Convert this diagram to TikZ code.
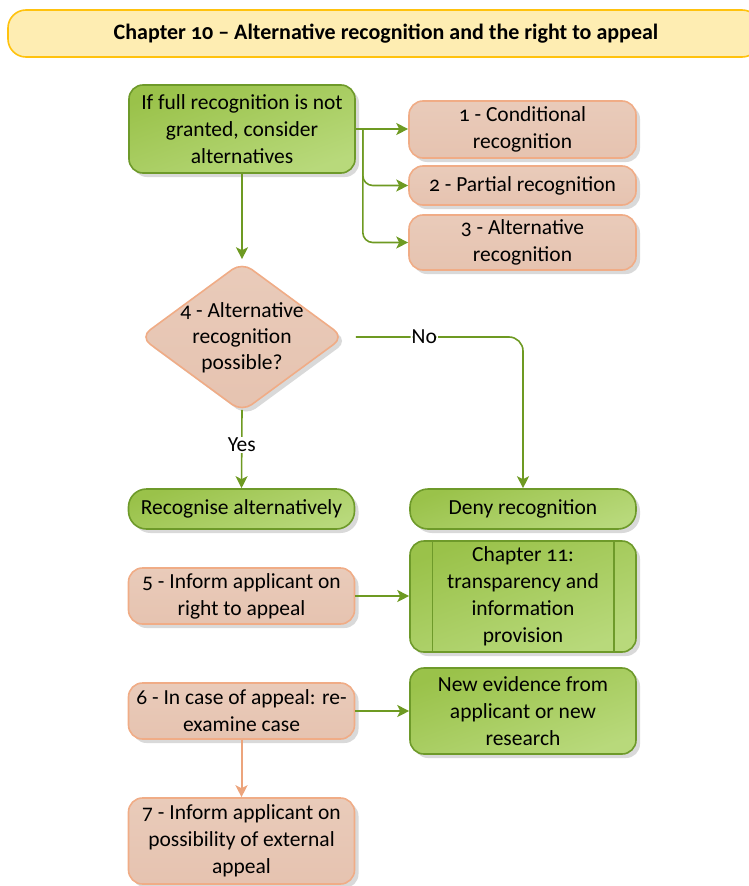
\documentclass[tikz,border=0pt]{standalone}
\usepackage{fontspec}
\setmainfont{Carlito}[Numbers=OldStyle]
\usetikzlibrary{shapes.geometric,arrows.meta,shadows,calc}
\definecolor{gfillA}{HTML}{9AC24A}
\definecolor{gfillB}{HTML}{B8D97B}
\definecolor{gdraw}{HTML}{6E9A2A}
\definecolor{sfill}{HTML}{E9CBBA}
\definecolor{sfillB}{HTML}{E6C3B0}
\definecolor{sdraw}{HTML}{F0AC86}
\definecolor{sconn}{HTML}{ECA47C}
\definecolor{conn}{HTML}{6E9A22}
\definecolor{yfill}{HTML}{FEEDB2}
\definecolor{ydraw}{HTML}{FFC20E}
\tikzset{
  base/.style={align=center, inner sep=0pt, line width=1.6pt, font=\fontsize{21.5}{27}\selectfont,
    drop shadow={shadow xshift=4pt, shadow yshift=-4pt, fill=black!15, opacity=1}},
  gbox/.style={base, draw=gdraw, top color=gfillA, bottom color=gfillB, shading angle=20, rounded corners=14pt},
  sbox/.style={base, draw=sdraw, top color=sfill, bottom color=sfillB, rounded corners=14pt},
  pill/.style={gbox, rounded corners=18pt},
  link/.style={draw=conn, line width=1.6pt, -{Stealth[length=12pt,width=12pt,inset=3pt]}},
  slink/.style={link, draw=sconn, line width=2pt},
  lbl/.style={fill=white, inner sep=1pt, font=\fontsize{21.5}{27}\selectfont},
}
\begin{document}
\begin{tikzpicture}[x=1pt,y=-1pt]
\useasboundingbox (0,0) rectangle (749,886);
% title banner
\node[draw=ydraw, fill=yfill, line width=1.6pt, rounded corners=18pt, minimum width=752pt, minimum height=47pt,
  inner sep=0pt] (title) at (384,33.5) {};
\node[font=\bfseries\fontsize{22}{26}\selectfont, inner sep=0pt] (ttext) at (386,34) {Chapter 10 – Alternative recognition and the right to appeal};
% nodes
\node[gbox, minimum width=226pt, minimum height=88pt] (A) at (242,129) {If full recognition is not\\granted, consider\\alternatives};
\node[sbox, minimum width=227pt, minimum height=57pt] (b1) at (522.5,129.5) {1 - Conditional\\recognition};
\node[sbox, minimum width=227pt, minimum height=39pt] (b2) at (522.5,185.5) {2 - Partial recognition};
\node[sbox, minimum width=227pt, minimum height=55pt] (b3) at (522.5,242.5) {3 - Alternative\\recognition};
\node[base, diamond, draw=sdraw, top color=sfill, bottom color=sfillB, rounded corners=12pt,
  minimum width=204pt, minimum height=150pt] (dia) at (242,337) {};
\node[align=center, inner sep=0pt, font=\fontsize{21.5}{26}\selectfont] (diat) at (242,338) {4 - Alternative\\recognition\\possible?};
\node[pill, minimum width=226pt, minimum height=40pt] (rec) at (241.5,509) {Recognise alternatively};
\node[pill, minimum width=226pt, minimum height=40pt] (deny) at (523,509) {Deny recognition};
\node[sbox, minimum width=226pt, minimum height=56pt] (b5) at (241.5,596) {5 - Inform applicant on\\right to appeal};
\node[gbox, minimum width=226pt, minimum height=111pt] (ch) at (523,596.5) {Chapter 11:\\transparency and\\information\\provision};
\draw[draw=gdraw, line width=1.4pt] ([xshift=23pt]ch.north west) -- ([xshift=23pt]ch.south west);
\draw[draw=gdraw, line width=1.4pt] ([xshift=-23pt]ch.north east) -- ([xshift=-23pt]ch.south east);
\node[sbox, minimum width=226pt, minimum height=56pt] (b6) at (241.5,711) {6 - In case of appeal: re-\\examine case};
\node[gbox, minimum width=226pt, minimum height=86pt] (new) at (523,711) {New evidence from\\applicant or new\\research};
\node[sbox, minimum width=226pt, minimum height=86pt] (b7) at (241.5,841) {7 - Inform applicant on\\possibility of external\\appeal};
% connectors
\coordinate (J) at ($(A.east)+(7,0)$);
\draw[link] (A.east) -- (A.east -| b1.west);
\draw[link, rounded corners=10pt] (J) |- (b2.west);
\draw[link, rounded corners=10pt] (J) |- (b3.west);
\draw[link, shorten >=4pt] (A.south) -- ([yshift=-2pt]dia.north);
\draw[link, rounded corners=14pt] ([xshift=11pt]dia.east) -- node[lbl, pos=0.41] {No} (dia.east -| deny.north) -- (deny.north);
\draw[link] ([yshift=3pt]dia.south) -- node[lbl, pos=0.45] {Yes} (rec.north);
\draw[link] (b5.east) -- (b5.east -| ch.west);
\draw[link] (b6.east) -- (b6.east -| new.west);
\draw[slink] (b6.south) -- (b7.north);
\end{tikzpicture}
\end{document}
